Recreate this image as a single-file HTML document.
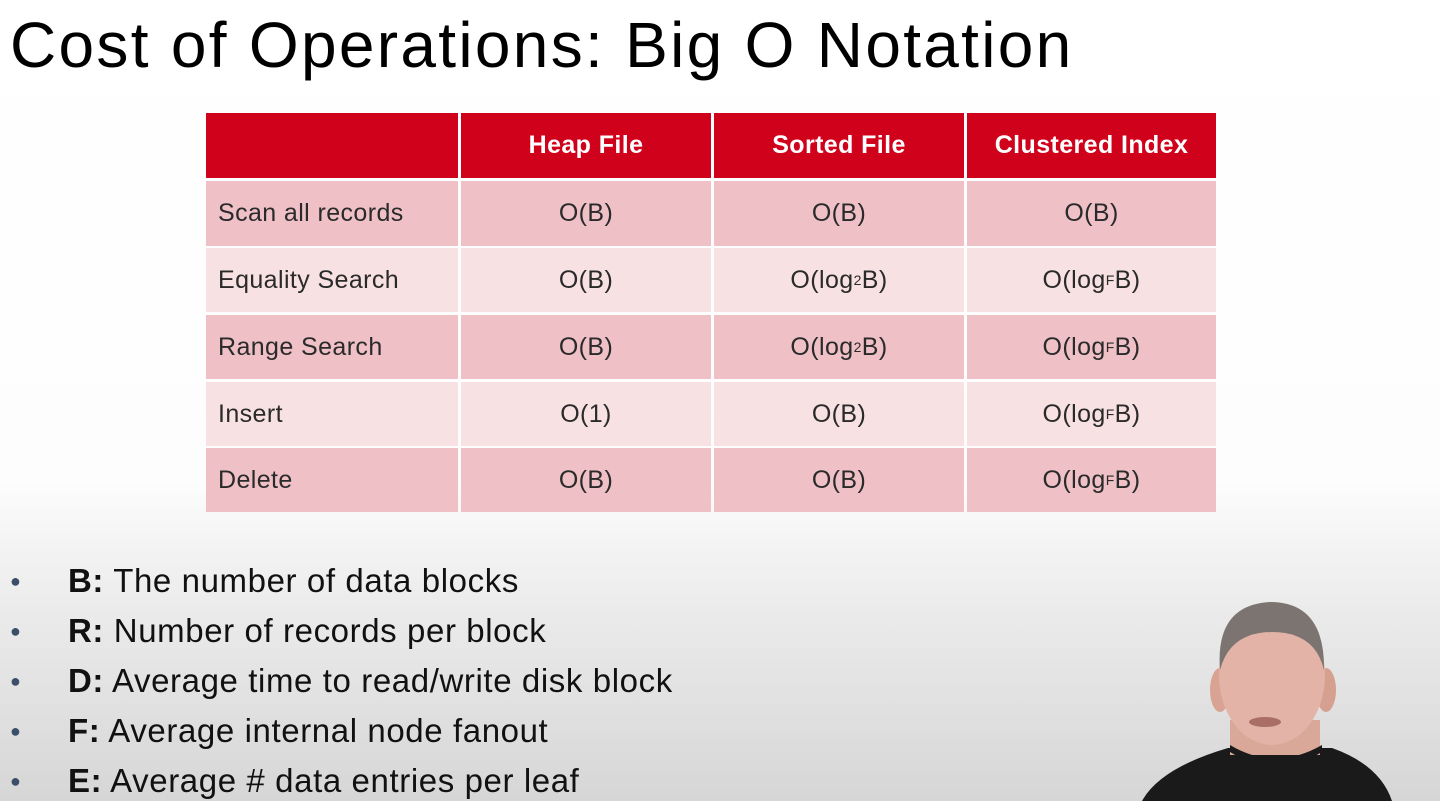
<!DOCTYPE html>
<html><head><meta charset="utf-8"><style>
html,body{margin:0;padding:0}
body{width:1440px;height:801px;position:relative;overflow:hidden;font-family:"Liberation Sans",sans-serif;
background:linear-gradient(to bottom,#ffffff 0px,#fdfdfd 480px,#ececec 600px,#d6d6d6 801px);}
h1{position:absolute;left:10px;top:8px;margin:0;font-weight:normal;font-size:64px;color:#000;letter-spacing:2.3px;white-space:nowrap}
.c{position:absolute;display:flex;align-items:center;font-size:25px;color:#2a2a2a;box-sizing:border-box;letter-spacing:0.4px}
.h{background:#d0021b;color:#fff;font-weight:bold;justify-content:center}
.o{background:#efc1c7}.e{background:#f8e1e3}
.l{padding-left:12px}.m{justify-content:center}
sub{font-size:14px;vertical-align:-6px}
.b{position:absolute;left:0;font-size:33px;color:#111}
.b span.d{position:absolute;left:10px;color:#3b4f6b;font-size:18px;top:9px}
.b span.t{position:absolute;left:68px;white-space:nowrap;letter-spacing:0.6px}
</style></head><body>
<h1>Cost of Operations: Big O Notation</h1>
<div id="t"></div>
<script>
var xs=[[206,458],[461,711],[714,964],[967,1216]];
var ys=[[113,178],[181,246],[248,312],[315,379],[382,446],[448,512]];
var data=[["","Heap File","Sorted File","Clustered Index"],
["Scan all records","O(B)","O(B)","O(B)"],
["Equality Search","O(B)","O(log<sub>2</sub>B)","O(log<sub>F</sub>B)"],
["Range Search","O(B)","O(log<sub>2</sub>B)","O(log<sub>F</sub>B)"],
["Insert","O(1)","O(B)","O(log<sub>F</sub>B)"],
["Delete","O(B)","O(B)","O(log<sub>F</sub>B)"]];
var h="";
for(var r=0;r<6;r++)for(var c=0;c<4;c++){
var cls=r==0?"h":(r%2?"o":"e")+(c==0?" l":" m");
h+='<div class="c '+cls+'" style="left:'+xs[c][0]+'px;top:'+ys[r][0]+'px;width:'+(xs[c][1]-xs[c][0])+'px;height:'+(ys[r][1]-ys[r][0])+'px">'+data[r][c]+'</div>';}
document.getElementById("t").innerHTML=h;
</script>
<div class="b" style="top:562px"><span class="d">●</span><span class="t"><b>B:</b> The number of data blocks</span></div>
<div class="b" style="top:612px"><span class="d">●</span><span class="t"><b>R:</b> Number of records per block</span></div>
<div class="b" style="top:662px"><span class="d">●</span><span class="t"><b>D:</b> Average time to read/write disk block</span></div>
<div class="b" style="top:712px"><span class="d">●</span><span class="t"><b>F:</b> Average internal node fanout</span></div>
<div class="b" style="top:762px"><span class="d">●</span><span class="t"><b>E:</b> Average # data entries per leaf</span></div>
<svg style="position:absolute;left:1100px;top:540px" width="340" height="261">
<path d="M42 261 Q60 228 128 208 L232 208 Q280 225 292 261 Z" fill="#1a1a1a"/>
<rect x="130" y="180" width="90" height="35" fill="#d9a898"/>
<path d="M130 205 Q175 232 222 205 L222 212 Q175 240 130 212 Z" fill="#1a1a1a"/>
<ellipse cx="120" cy="150" rx="10" ry="22" fill="#d9a393"/>
<ellipse cx="226" cy="150" rx="10" ry="22" fill="#d5a090"/>
<ellipse cx="172" cy="135" rx="53" ry="70" fill="#e2b3a6"/>
<path d="M120 130 Q115 65 170 62 Q225 62 224 130 Q215 92 172 92 Q130 92 120 130 Z" fill="#7c7470"/>
<ellipse cx="165" cy="182" rx="16" ry="5" fill="#a96e66"/>
</svg>
</body></html>
